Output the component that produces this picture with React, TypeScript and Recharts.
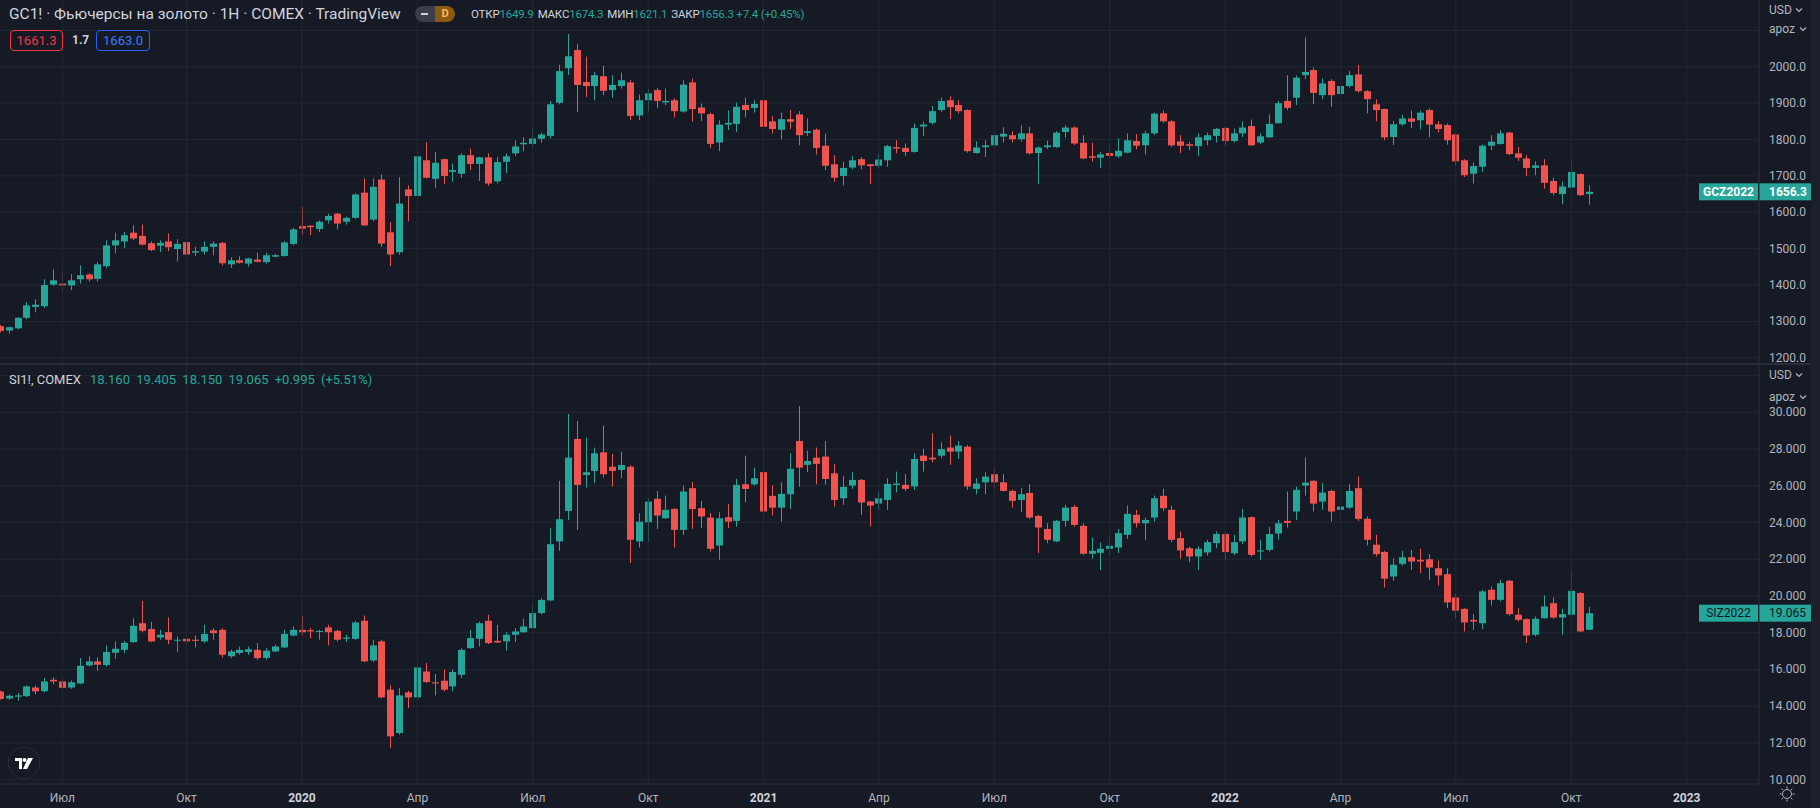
import React from 'react';
import { ComposedChart, Bar, XAxis, YAxis, CartesianGrid, ReferenceLine } from 'recharts';

// ---------- data (weekly candles, week index 0 = 13 May 2019) ----------
const goldOpen = [1287,1275,1281,1310,1340,1342,1401,1404,1399,1416,1429,1417,1452,1509,1520,1544,1535,1515,1508,1520,1499,1518,1489,1492,1505,1516,1457,1468,1459,1470,1463,1478,1480,1513,1562,1563,1554,1578,1596,1574,1585,1654,1580,1690,1545,1490,1663,1645,1743,1692,1746,1711,1706,1757,1733,1751,1685,1739,1762,1787,1788,1802,1810,1901,1996,2046,1958,1947,1974,1936,1947,1957,1866,1908,1936,1902,1908,1877,1957,1888,1870,1792,1841,1843,1895,1887,1908,1850,1827,1856,1869,1818,1827,1783,1732,1700,1723,1746,1732,1728,1743,1779,1777,1766,1836,1846,1881,1908,1895,1881,1763,1779,1784,1808,1812,1801,1817,1763,1779,1779,1821,1833,1791,1754,1750,1763,1754,1764,1796,1784,1817,1872,1850,1795,1787,1782,1798,1810,1832,1796,1817,1837,1792,1806,1845,1906,1915,1977,1991,1922,1961,1925,1947,1979,1933,1897,1884,1807,1842,1858,1853,1881,1842,1840,1814,1743,1706,1725,1783,1788,1819,1762,1748,1722,1729,1686,1650,1668,1705,1649.9];
const goldHigh = [1290,1286,1311,1353,1361,1416,1443,1440,1430,1454,1432,1463,1523,1544,1546,1564,1566,1520,1523,1542,1526,1521,1505,1520,1520,1518,1476,1479,1475,1489,1489,1486,1521,1557,1615,1565,1578,1596,1598,1588,1652,1693,1693,1704,1573,1697,1674,1757,1792,1766,1748,1734,1762,1775,1753,1762,1752,1762,1798,1807,1830,1819,1906,2006,2090,2062,2028,1986,2003,1977,1984,1963,1924,1939,1942,1940,1913,1963,1968,1899,1874,1853,1880,1902,1915,1908,1963,1865,1874,1881,1878,1858,1830,1816,1757,1739,1754,1752,1733,1759,1785,1798,1789,1844,1849,1892,1915,1919,1908,1883,1795,1798,1819,1834,1823,1839,1835,1781,1797,1823,1839,1836,1812,1791,1766,1784,1803,1817,1815,1823,1874,1880,1853,1812,1794,1817,1819,1832,1835,1830,1850,1855,1817,1869,1906,1977,1976,2081,1998,1968,1966,1954,1988,2005,1936,1911,1885,1851,1869,1880,1880,1885,1851,1844,1817,1746,1737,1786,1812,1826,1821,1780,1757,1740,1746,1695,1684,1740,1707,1674.3];
const goldLow = [1270,1267,1278,1306,1325,1337,1398,1383,1386,1404,1410,1410,1447,1487,1502,1523,1509,1493,1491,1493,1465,1480,1480,1484,1482,1454,1447,1459,1451,1462,1459,1476,1478,1509,1539,1537,1546,1569,1553,1566,1581,1563,1575,1505,1452,1483,1575,1636,1693,1667,1678,1684,1695,1716,1686,1673,1679,1707,1755,1768,1779,1792,1803,1897,1977,1876,1917,1908,1922,1915,1940,1853,1853,1878,1887,1894,1861,1874,1849,1851,1777,1768,1826,1821,1861,1874,1828,1817,1800,1829,1784,1810,1759,1716,1684,1674,1718,1718,1677,1722,1725,1762,1755,1764,1810,1841,1876,1856,1872,1764,1761,1752,1782,1792,1792,1794,1759,1677,1774,1777,1805,1785,1746,1739,1722,1746,1750,1762,1773,1759,1812,1846,1780,1763,1771,1755,1784,1792,1784,1792,1807,1783,1788,1805,1844,1881,1895,1966,1897,1911,1890,1918,1943,1929,1872,1850,1798,1785,1838,1832,1828,1806,1819,1786,1728,1697,1679,1711,1771,1786,1757,1741,1700,1702,1665,1647,1622,1665,1645,1621.1];
const goldClose = [1274,1284,1310,1344,1346,1400,1413,1399,1413,1427,1416,1457,1509,1523,1537,1528,1511,1496,1516,1504,1513,1484,1493,1505,1514,1460,1468,1461,1473,1464,1482,1482,1517,1553,1555,1559,1574,1590,1569,1585,1649,1564,1670,1514,1484,1624,1645,1754,1695,1736,1700,1716,1757,1733,1751,1679,1738,1754,1781,1791,1803,1814,1897,1988,2029,1950,1947,1977,1934,1950,1963,1865,1908,1927,1906,1906,1878,1951,1884,1872,1788,1841,1846,1890,1881,1898,1835,1829,1856,1849,1812,1823,1777,1728,1695,1722,1743,1729,1727,1745,1782,1775,1766,1832,1841,1878,1906,1889,1878,1768,1778,1784,1812,1816,1801,1817,1762,1778,1784,1819,1833,1789,1748,1750,1759,1755,1769,1798,1783,1817,1871,1850,1784,1783,1783,1806,1812,1829,1796,1817,1833,1784,1809,1843,1900,1887,1970,1986,1928,1954,1922,1947,1977,1933,1911,1881,1806,1842,1858,1849,1874,1841,1829,1798,1740,1702,1727,1783,1794,1817,1760,1750,1722,1729,1681,1653,1671,1711,1647,1656.3];

const silverOpen = [14.8,14.42,14.52,14.55,15.02,14.82,15.44,15.35,15.02,15.24,16.22,16.44,16.24,16.91,17.07,17.49,18.52,18.2,17.74,18.03,17.57,17.67,17.62,17.53,18.13,18.16,16.72,16.9,16.95,17.07,16.63,16.98,17.2,17.85,18.16,18.14,18.04,18.29,18.1,17.67,17.67,18.65,16.49,17.53,14.9,12.54,14.75,14.48,15.89,15.3,15.39,15.08,15.71,17.16,17.67,18.65,17.56,17.53,17.89,18.03,18.25,19.07,19.76,22.97,24.63,28.55,26.59,26.81,27.82,27.04,26.86,27.04,22.97,24.02,25.29,24.23,24.74,23.6,25.87,24.78,24.27,22.75,24.29,24.09,26.08,26.08,26.74,25.45,24.81,25.54,28.44,27.14,27.53,27.59,26.68,25.32,26.01,26.32,25.14,25.03,25.23,26.05,26.05,25.96,27.64,27.53,27.64,28.08,27.86,28.13,25.83,26.19,26.63,26.19,25.72,25.23,25.61,24.36,23.65,22.97,24.09,24.85,23.82,22.3,22.35,22.57,22.64,23.33,24.42,23.96,24.27,25.45,24.69,23.15,22.6,22.15,22.37,22.88,23.37,22.33,22.97,24.29,22.42,22.51,23.4,24.09,24.6,26.01,26.27,25.14,25.72,24.69,24.81,25.87,24.2,22.79,22.4,21.06,21.75,22.11,21.97,22.0,21.51,21.19,19.92,19.3,18.7,18.52,20.34,19.79,20.83,18.98,18.74,17.89,18.79,19.61,18.83,18.98,20.16,18.16];
const silverHigh = [14.85,14.65,14.72,15.12,15.13,15.53,15.57,15.5,15.4,16.62,16.71,16.66,17.3,17.53,17.56,18.79,19.74,18.58,18.16,18.83,17.8,17.98,17.85,18.43,18.25,18.25,17.07,17.25,17.25,17.44,17.16,17.35,18.16,18.34,18.92,18.25,18.16,18.43,18.16,17.9,18.65,18.94,17.62,17.62,15.13,14.99,14.84,16.35,16.35,15.75,15.99,15.99,17.16,18.16,18.61,18.98,18.43,18.03,18.25,18.76,19.49,19.88,23.69,26.27,29.91,29.53,28.62,28.08,29.27,27.72,27.86,27.13,24.51,25.32,25.72,25.47,24.78,26.01,26.2,25.18,24.51,24.56,25.01,26.37,27.64,26.99,28.13,26.01,26.19,27.77,30.34,27.9,28.08,28.44,27.17,26.54,26.74,26.37,25.18,25.69,26.41,26.77,26.63,27.77,28.01,28.86,28.37,28.73,28.44,28.22,26.41,26.74,26.99,26.63,25.78,25.87,26.08,24.42,23.96,24.14,24.96,24.96,23.96,23.18,22.91,23.24,23.65,24.92,24.69,24.27,25.47,25.83,24.92,23.51,22.69,22.69,23.06,23.51,23.47,23.33,24.74,24.33,23.06,23.75,24.14,25.69,25.96,27.55,26.32,26.14,25.78,25.1,26.08,26.5,24.33,23.33,22.46,22.06,22.46,22.51,22.57,22.28,21.93,21.51,20.1,19.34,19.01,20.34,20.52,20.88,20.88,19.34,18.79,18.89,20.03,19.92,19.3,21.3,20.21,19.405];
const silverLow = [14.35,14.35,14.3,14.5,14.66,14.75,15.2,14.9,14.95,15.2,16.16,15.93,16.16,16.58,16.9,17.44,18.03,17.49,17.62,17.38,16.95,17.38,17.2,17.44,17.62,16.66,16.62,16.8,16.8,16.53,16.53,16.95,17.16,17.8,17.85,17.7,17.62,17.31,17.53,17.5,17.62,16.4,16.4,14.44,11.73,12.45,13.9,14.35,15.26,14.59,14.81,14.81,15.53,17.13,17.25,17.38,17.44,17.02,17.49,17.98,18.21,19.0,19.7,22.46,24.14,23.6,25.9,26.14,26.45,25.96,26.41,21.79,22.64,22.93,23.65,24.2,22.64,23.33,23.65,23.69,22.42,21.97,23.69,23.78,25.1,26.01,24.33,24.38,24.05,24.74,25.96,26.74,26.08,26.08,24.87,24.96,25.83,24.42,23.78,24.69,24.69,25.65,25.72,25.78,26.77,27.28,27.5,27.14,27.46,25.78,25.54,25.54,25.83,25.69,24.81,24.56,24.2,22.33,22.88,22.93,23.78,23.78,22.24,22.02,21.42,22.15,22.33,23.11,23.73,23.06,24.05,24.63,22.93,22.02,21.84,21.42,22.2,22.6,21.97,22.24,22.82,22.15,21.97,22.42,23.06,23.73,24.14,25.47,24.6,24.69,24.05,24.2,24.74,24.09,22.75,22.15,20.46,20.83,21.66,21.42,21.24,20.88,20.57,19.34,18.76,18.07,18.16,18.21,19.48,19.7,18.94,18.61,17.44,17.8,18.76,18.76,17.89,18.94,18.03,18.15];
const silverClose = [14.4,14.57,14.59,15.08,14.81,15.35,15.35,15.0,15.3,16.2,16.44,16.26,16.95,17.13,17.45,18.38,18.11,17.53,17.89,17.62,17.62,17.53,17.56,17.93,17.98,16.8,16.98,17.07,17.1,16.62,17.02,17.25,17.94,18.16,18.03,18.07,18.1,18.03,17.62,17.74,18.56,16.44,17.31,14.48,12.36,14.59,14.48,16.11,15.32,15.24,14.9,15.86,17.07,17.71,18.52,17.44,17.47,17.89,18.07,18.34,19.07,19.79,22.82,24.18,27.53,26.05,26.74,27.77,26.63,26.81,27.13,23.06,24.05,25.14,24.38,24.69,23.6,25.69,24.74,24.33,22.57,24.23,24.05,26.05,25.83,26.41,24.6,24.81,25.56,26.92,26.99,27.35,27.19,26.37,25.23,25.94,26.32,25.09,24.92,25.32,26.1,26.12,25.83,27.46,27.35,27.44,27.99,27.86,28.19,25.96,26.12,26.5,26.19,25.72,25.18,25.54,24.27,23.73,23.06,24.09,24.81,23.87,22.3,22.46,22.57,22.73,23.42,24.47,23.96,24.14,25.32,24.78,23.06,22.48,22.15,22.57,22.93,23.37,22.39,22.93,24.27,22.24,22.48,23.37,23.96,23.98,25.78,26.17,25.03,25.63,24.6,24.87,25.72,24.2,23.06,22.28,20.94,21.7,22.11,21.88,21.88,21.55,21.12,19.65,19.2,18.56,18.61,20.25,19.79,20.7,19.01,18.7,17.85,18.76,19.43,18.83,19.01,20.28,18.07,19.065];

const timeTickIdx = [7, 21, 34, 47, 60, 73, 86, 99, 112, 125, 138, 151, 164, 177, 190];
const timeTickLabels = ['Июл', 'Окт', '2020', 'Апр', 'Июл', 'Окт', '2021', 'Апр', 'Июл', 'Окт', '2022', 'Апр', 'Июл', 'Окт', '2023'];
const goldTicks = [1200, 1300, 1400, 1500, 1600, 1700, 1800, 1900, 2000];
const goldGrid = [1200, 1300, 1400, 1500, 1600, 1700, 1800, 1900, 2000, 2100];
const silverTicks = [10, 12, 14, 16, 18, 20, 22, 24, 26, 28, 30];
const silverGrid = [10, 12, 14, 16, 18, 20, 22, 24, 26, 28, 30, 32];

// ---------- style ----------
const BG = '#161a25';
const GRID = '#232733';
const AXIS = '#2a2e39';
const TEXT = '#b2b5be';
const BRIGHT = '#d1d4dc';
const UP = '#26a69a';
const DOWN = '#ef5350';
const FONT = 'Roboto, "Noto Sans", sans-serif';
const X_DOMAIN: [number, number] = [-0.0225, 198.15];

const goldData = goldOpen.map((o, i) => ({ i, o, h: goldHigh[i], l: goldLow[i], c: goldClose[i], range: [goldLow[i], goldHigh[i]] }));
const silverData = silverOpen.map((o, i) => ({ i, o, h: silverHigh[i], l: silverLow[i], c: silverClose[i], range: [silverLow[i], silverHigh[i]] }));

const Candle = (props: any) => {
  let { x, y, width, height, payload } = props;
  if (!payload || height == null) return null;
  if (height < 0) { y += height; height = -height; }
  const { o, h, l, c } = payload;
  const color = c >= o ? UP : DOWN;
  const cx = Math.round(x + width / 2 - 0.5);
  const k = h - l === 0 ? 0 : height / (h - l);
  const yO = y + (h - o) * k;
  const yC = y + (h - c) * k;
  const top = Math.min(yO, yC);
  const bh = Math.max(Math.abs(yO - yC), 1);
  return (
    <g>
      <line x1={cx + 0.5} x2={cx + 0.5} y1={y} y2={y + height} stroke={color} strokeWidth={1} />
      <rect x={cx - 3} y={top} width={7} height={bh} fill={color} />
    </g>
  );
};

const PriceTick = (digits: number) => (props: any) => {
  const { x, y, payload } = props;
  return (
    <text x={x} y={y} dy={4} textAnchor="start" fill={TEXT} fontSize={12} fontFamily={FONT}>
      {Number(payload.value).toFixed(digits)}
    </text>
  );
};

const TimeTick = (props: any) => {
  const { x, y, payload } = props;
  const idx = timeTickIdx.indexOf(payload.value);
  const label = idx >= 0 ? timeTickLabels[idx] : '';
  const isYear = /^\d{4}$/.test(label);
  return (
    <text x={x} y={y} dy={18} textAnchor="middle" fill={isYear ? BRIGHT : TEXT} fontSize={12} fontWeight={isYear ? 700 : 400} fontFamily={FONT}>
      {label}
    </text>
  );
};

const LastLabel = (name: string, value: string, textColor: string, bold: boolean) => (props: any) => {
  const vb = props.viewBox || {};
  const right = vb.x + vb.width;
  const cy = vb.y;
  return (
    <g fontFamily={FONT} fontSize={12} fontWeight={bold ? 700 : 400}>
      <rect x={right - 60} y={cy - 8.5} width={59} height={17} fill={UP} />
      <text x={right - 30.5} y={cy + 4} textAnchor="middle" fill={textColor}>{name}</text>
      <rect x={right} y={cy - 8.5} width={52} height={17} fill={UP} />
      <text x={right + 10} y={cy + 4} textAnchor="start" fill={textColor}>{value}</text>
    </g>
  );
};

const Chevron = ({ x, y }: { x: number; y: number }) => (
  <svg style={{ position: 'absolute', left: x, top: y }} width={8} height={6}>
    <path d="M1 1.5 L4 4.5 L7 1.5" stroke={TEXT} strokeWidth={1.2} fill="none" />
  </svg>
);

const AxisCaption = ({ top, text }: { top: number; text: string }) => (
  <div style={{ position: 'absolute', left: 1769, top, fontSize: 12, color: TEXT, fontFamily: FONT, lineHeight: '14px', whiteSpace: 'nowrap' }}>
    {text}
  </div>
);

export default function App() {
  return (
    <div style={{ position: 'absolute', left: 0, top: 0, width: 1820, height: 808, background: BG, overflow: 'hidden', fontFamily: FONT }}>
      {/* top pane: gold (plot area 0..363, extra bottom margin keeps the lowest label inside the svg) */}
      <div style={{ position: 'absolute', left: 0, top: 0 }}>
        <ComposedChart width={1820} height={370} data={goldData} margin={{ top: 0, right: 0, bottom: 7, left: 0 }}>
          <CartesianGrid stroke={GRID} vertical={false} horizontalValues={goldGrid} />
          {timeTickIdx.map((t) => (
            <ReferenceLine key={t} x={t} stroke={GRID} ifOverflow="hidden" />
          ))}
          <XAxis type="number" dataKey="i" domain={X_DOMAIN} allowDataOverflow hide />
          <YAxis orientation="right" width={61} domain={[1185.7, 2183.6]} allowDataOverflow ticks={goldTicks} interval={0}
            axisLine={{ stroke: AXIS }} tickLine={false} tickSize={0} tickMargin={10} tick={PriceTick(1)} />
          <Bar dataKey="range" barSize={7} isAnimationActive={false} shape={<Candle />} />
          <ReferenceLine y={1656.3} stroke="none" label={LastLabel('GCZ2022', '1656.3', '#ffffff', true)} />
        </ComposedChart>
      </div>
      <div style={{ position: 'absolute', left: 0, top: 363, width: 1820, height: 2, background: AXIS }} />
      {/* bottom pane: silver */}
      <div style={{ position: 'absolute', left: 0, top: 365 }}>
        <ComposedChart width={1820} height={443} data={silverData} margin={{ top: 0, right: 0, bottom: 0, left: 0 }}>
          <CartesianGrid stroke={GRID} vertical={false} horizontalValues={silverGrid} />
          {timeTickIdx.map((t) => (
            <ReferenceLine key={t} x={t} stroke={GRID} ifOverflow="hidden" />
          ))}
          <XAxis type="number" dataKey="i" domain={X_DOMAIN} allowDataOverflow ticks={timeTickIdx} interval={0} height={24}
            axisLine={{ stroke: AXIS }} tickLine={false} tickSize={0} tickMargin={0} tick={<TimeTick />} />
          <YAxis orientation="right" width={61} domain={[9.766, 32.575]} allowDataOverflow ticks={silverTicks} interval={0}
            axisLine={{ stroke: AXIS }} tickLine={false} tickSize={0} tickMargin={10} tick={PriceTick(3)} />
          <Bar dataKey="range" barSize={7} isAnimationActive={false} shape={<Candle />} />
          <ReferenceLine y={19.065} stroke="none" label={LastLabel('SIZ2022', '19.065', '#131722', false)} />
        </ComposedChart>
      </div>

      {/* right strip */}
      <div style={{ position: 'absolute', left: 1811, top: 0, width: 9, height: 808, background: '#1c202b' }} />

      {/* axis captions */}
      <AxisCaption top={3} text="USD" />
      <Chevron x={1795} y={7} />
      <AxisCaption top={22} text="apoz" />
      <Chevron x={1799} y={26} />
      <AxisCaption top={368} text="USD" />
      <Chevron x={1795} y={372} />
      <AxisCaption top={390} text="apoz" />
      <Chevron x={1799} y={394} />

      {/* gold header */}
      <div style={{ position: 'absolute', left: 9, top: 4, fontSize: 15.5, color: BRIGHT, whiteSpace: 'nowrap', lineHeight: '20px' }}>
        GC1! · Фьючерсы на золото · 1Н · COMEX · TradingView
      </div>
      <div style={{ position: 'absolute', left: 415, top: 6, width: 40, height: 16, borderRadius: 8, background: '#3a3e4a', overflow: 'hidden' }}>
        <div style={{ position: 'absolute', left: 6, top: 7, width: 7, height: 2, background: '#d1d4dc' }} />
        <div style={{ position: 'absolute', left: 20, top: 0, width: 20, height: 16, background: '#8a5a14', borderRadius: '0 8px 8px 0', color: '#ffb74d', fontSize: 11, fontWeight: 700, textAlign: 'center', lineHeight: '16px' }}>D</div>
      </div>
      <div style={{ position: 'absolute', left: 471, top: 6, fontSize: 11.5, letterSpacing: -0.2, whiteSpace: 'nowrap', lineHeight: '16px' }}>
        <span style={{ color: BRIGHT }}>ОТКР</span><span style={{ color: UP }}>1649.9</span>
        <span style={{ color: BRIGHT, marginLeft: 4 }}>МАКС</span><span style={{ color: UP }}>1674.3</span>
        <span style={{ color: BRIGHT, marginLeft: 4 }}>МИН</span><span style={{ color: UP }}>1621.1</span>
        <span style={{ color: BRIGHT, marginLeft: 4 }}>ЗАКР</span><span style={{ color: UP }}>1656.3 +7.4 (+0.45%)</span>
      </div>
      <div style={{ position: 'absolute', left: 10, top: 30, width: 51, height: 19, border: '1px solid #f23645', borderRadius: 4, color: '#f23645', fontSize: 13, textAlign: 'center', lineHeight: '19px' }}>1661.3</div>
      <div style={{ position: 'absolute', left: 72, top: 30, color: '#d1d4dc', fontSize: 12, fontWeight: 700, lineHeight: '21px' }}>1.7</div>
      <div style={{ position: 'absolute', left: 96, top: 30, width: 52, height: 19, border: '1px solid #2962ff', borderRadius: 4, color: '#3b7bff', fontSize: 13, textAlign: 'center', lineHeight: '19px' }}>1663.0</div>

      {/* silver header */}
      <div style={{ position: 'absolute', left: 9, top: 372, fontSize: 13, whiteSpace: 'nowrap', lineHeight: '16px' }}>
        <span style={{ color: BRIGHT }}>SI1!, COMEX</span>
        <span style={{ color: UP, marginLeft: 9, wordSpacing: 3 }}>18.160 19.405 18.150 19.065 +0.995 (+5.51%)</span>
      </div>

      {/* TradingView logo */}
      <svg style={{ position: 'absolute', left: 7, top: 746 }} width={34} height={34}>
        <circle cx={17} cy={17} r={16} fill={BG} stroke="#2a2e39" strokeWidth={1} />
        <path d="M8 12 H15 V23 H12 V15 H8 Z" fill="#ffffff" />
        <circle cx={17.5} cy={14} r={2} fill="#ffffff" />
        <path d="M21 12 H26 L20 23 H16 Z" fill="#ffffff" />
      </svg>

      {/* settings icon */}
      <svg style={{ position: 'absolute', left: 1778, top: 785 }} width={18} height={18}>
        <circle cx={9} cy={9} r={4.5} fill="none" stroke={TEXT} strokeWidth={1} />
        {[0, 45, 90, 135, 180, 225, 270, 315].map((a) => {
          const r = (a * Math.PI) / 180;
          return <line key={a} x1={9 + Math.cos(r) * 5.5} y1={9 + Math.sin(r) * 5.5} x2={9 + Math.cos(r) * 7.5} y2={9 + Math.sin(r) * 7.5} stroke={TEXT} strokeWidth={1} />;
        })}
      </svg>
    </div>
  );
}
